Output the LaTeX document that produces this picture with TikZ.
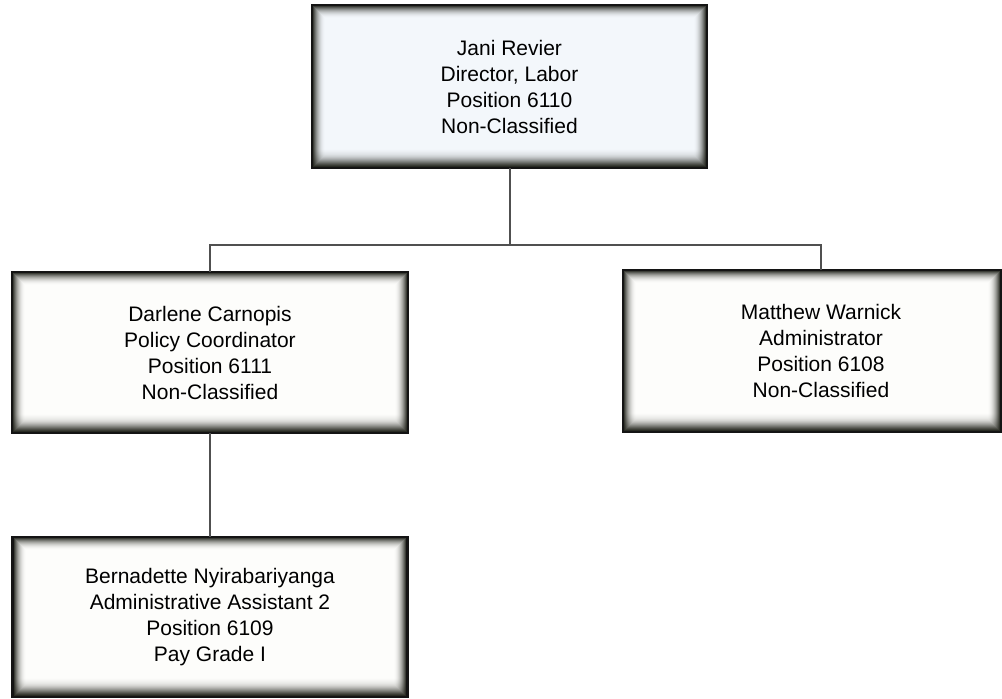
\documentclass[tikz,border=0pt]{standalone}
\usepackage{fontspec}
\setmainfont{Liberation Sans}

\definecolor{inkline}{HTML}{505050}
\definecolor{paperblue}{HTML}{F3F7FB}
\definecolor{paperwhite}{HTML}{FDFDFB}
\definecolor{shadowink}{HTML}{1A1C14}

\tikzset{
  x=1pt, y=-1pt,
  % position box: heavy frame with a soft inner shadow, darkest along the bottom
  orgbox/.style={
    rectangle, draw=black!92, line width=2.6pt, fill=#1,
    inner sep=0pt, outer sep=0pt, align=center,
    font=\fontsize{21}{26}\selectfont,
    path picture={
      % deeper shadow band above the bottom edge
      \foreach \j in {0,...,17}{
        \pgfmathsetmacro\bop{0.55*(1-\j/18)^1.6}
        \fill[shadowink, fill opacity=\bop]
          ([yshift=\j pt+1pt]path picture bounding box.south west) rectangle
          ([yshift=\j pt+2pt]path picture bounding box.south east);
      }
      % soft inner shadow all round
      \foreach \i in {0,...,11}{
        \pgfmathsetmacro\op{0.85*(1-\i/12)^2}
        \draw[shadowink, draw opacity=\op, line width=1pt]
          ([shift={(\i pt+1.8pt,\i pt+1.8pt)}]path picture bounding box.south west) rectangle
          ([shift={(-\i pt-1.8pt,-\i pt-1.8pt)}]path picture bounding box.north east);
      }
    }
  },
  orgbox/.default=paperwhite,
  boxtext/.style={align=center, inner sep=0pt, font=\fontsize{21}{26}\selectfont},
  link/.style={draw=inkline, line width=2pt}
}

\begin{document}
\begin{tikzpicture}
  \fill[white] (0,0) rectangle (1002,699);
  \useasboundingbox (0,0) rectangle (1002,699);

  % director
  \node[orgbox=paperblue, minimum width=395pt, minimum height=163pt] (jani) at (509.5,86.5)
    {Jani Revier\\Director, Labor\\Position 6110\\Non-Classified};

  % second level
  \node[orgbox, minimum width=396pt, minimum height=161pt] (darlene) at (210,352.5)
    {Darlene Carnopis\\Policy Coordinator\\Position 6111\\Non-Classified};
  \node[orgbox, minimum width=378pt, minimum height=162pt] (matthew) at (812,351) {};
  \node[boxtext] (matthewtext) at (821,351)
    {Matthew Warnick\\Administrator\\Position 6108\\Non-Classified};

  % third level
  \node[orgbox, minimum width=395pt, minimum height=160pt] (bernadette) at (210,617)
    {Bernadette Nyirabariyanga\\Administrative Assistant 2\\Position 6109\\Pay Grade I};

  % reporting lines
  \coordinate (bus) at (509.5,245);
  \draw[link] (jani.south) -- (bus);
  \draw[link] (darlene.north) |- (matthewtext |- bus) -- (matthewtext |- matthew.north);
  \draw[link] (darlene.south) -- (bernadette.north);
\end{tikzpicture}
\end{document}
